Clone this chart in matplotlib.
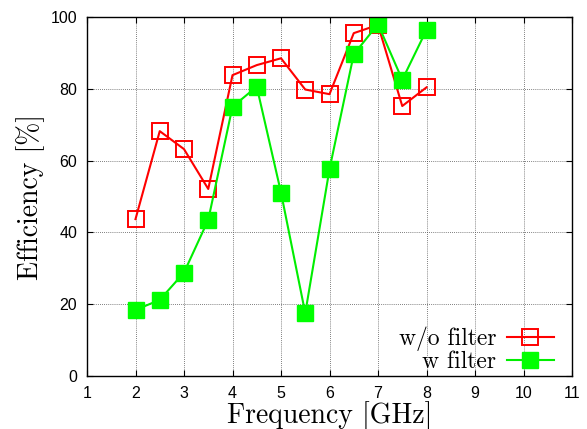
import matplotlib
matplotlib.use('Agg')
import matplotlib.pyplot as plt

# frequency points [GHz]
freq = [2, 2.5, 3, 3.5, 4, 4.5, 5, 5.5, 6, 6.5, 7, 7.5, 8]
# efficiency without filter [%]
eff_wo = [43.7, 68.2, 63.2, 52.1, 83.8, 86.6, 88.5, 79.8, 78.5, 95.5, 97.8, 75.2, 80.4]
# efficiency with filter [%]
eff_w = [18.4, 21.2, 28.8, 43.5, 75.0, 80.6, 51.1, 17.5, 57.6, 89.6, 98.0, 82.5, 96.4]

xticks = list(range(1, 12))
yticks = [0, 20, 40, 60, 80, 100]

fig = plt.figure(figsize=(5.87, 4.29), dpi=100)
ax = fig.add_axes([87/587, 1 - 376/429, 485/587, 359/429])

ax.plot(freq, eff_wo, color='#ff0000', lw=1.5, marker='s', ms=11.5,
        mfc='none', mec='#ff0000', mew=1.4, label='w/o filter')
ax.plot(freq, eff_w, color='#00ee00', lw=1.5, marker='s', ms=11.5,
        mfc='#00ff00', mec='#00ff00', label='w filter')

ax.set_xlim(1, 11)
ax.set_ylim(0, 100)
ax.set_xticks(xticks)
ax.set_yticks(yticks)
ax.grid(True, color='#555555', linestyle=(0, (1, 1.5)), linewidth=0.6)
ax.tick_params(direction='in', top=True, right=True, length=4, width=0.8,
               labelsize=11.5, pad=7)
for lab in ax.get_xticklabels() + ax.get_yticklabels():
    lab.set_family('Liberation Sans')
for s in ax.spines.values():
    s.set_linewidth(1.0)

ax.set_xlabel('Frequency [GHz]', family='cmr10', fontsize=20, labelpad=0)
ax.set_ylabel('Efficiency [%]', family='cmr10', fontsize=20, labelpad=4)

leg = ax.legend(loc='lower right', bbox_to_anchor=(0.963, 0.008),
                frameon=False, markerfirst=False,
                prop={'family': 'cmr10', 'size': 17}, handlelength=2.0,
                handletextpad=0.45, labelspacing=0.0, borderpad=0,
                borderaxespad=0)

fig.savefig('out.png', dpi=100)
